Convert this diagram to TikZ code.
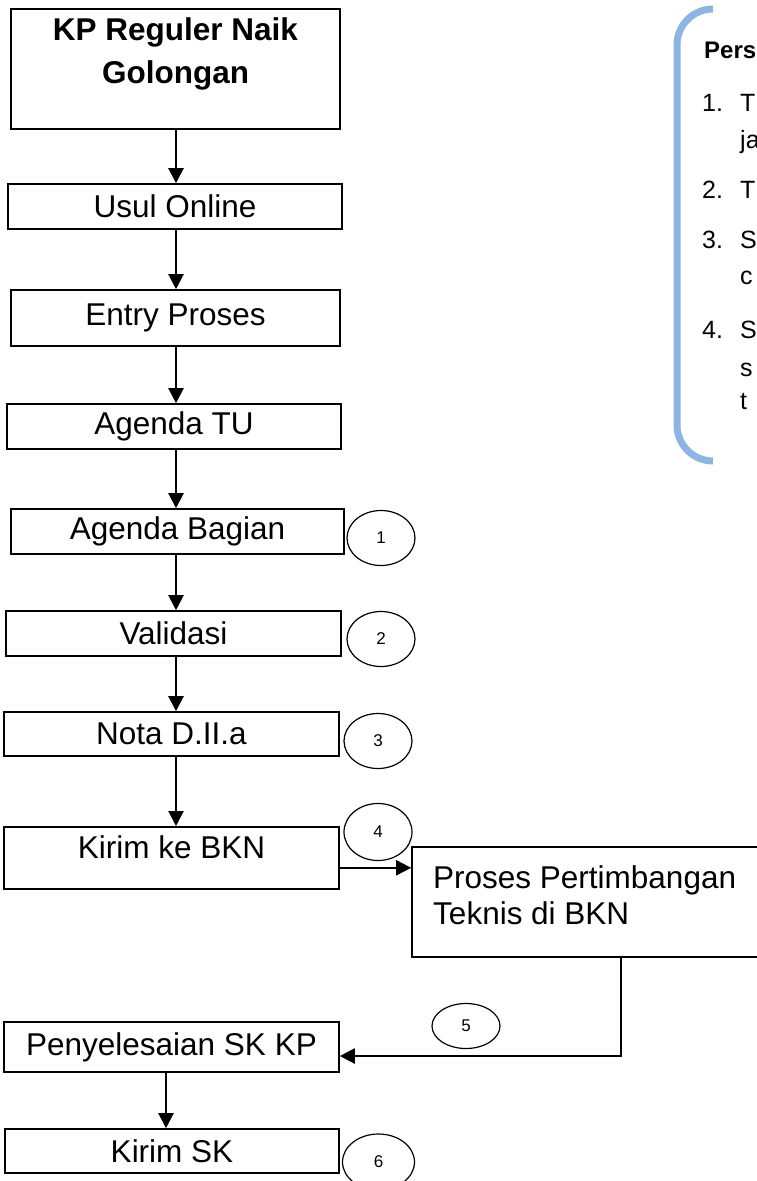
\documentclass[tikz,border=0pt]{standalone}
\usepackage{fontspec}
\setmainfont{Liberation Sans}
\usetikzlibrary{shapes.geometric, arrows.meta}
\definecolor{brkblue}{RGB}{141,180,226}
\begin{document}
\begin{tikzpicture}[x=1pt, y=-1pt,
  box/.style={draw, line width=1.6pt, rectangle, inner sep=0pt, font=\fontsize{31.5}{36}\selectfont},
  num/.style={draw, ellipse, line width=1.2pt, minimum width=68pt, minimum height=55pt, inner sep=0pt, font=\fontsize{17}{18}\selectfont},
  arr/.style={line width=2.2pt, -{Triangle[length=15pt, width=15pt]}},
  brk/.style={draw=brkblue, line width=7pt},
  lst/.style={anchor=base west, inner sep=0pt, font=\fontsize{25}{28}\selectfont}]
\useasboundingbox (0,0) rectangle (757,1181);

% main column boxes
\node[box, minimum width=329pt, minimum height=120pt] (kp) at (175.5,69) {};
\node[anchor=north, inner sep=0pt, align=center, font=\bfseries\fontsize{31.5}{43}\selectfont] (kpt) at (175.5,17) {KP Reguler Naik\\Golongan};
\node[box, minimum width=334pt, minimum height=45pt] (usul) at (175,206.5) {Usul Online};
\node[box, minimum width=329pt, minimum height=56pt] (entry) at (175.5,318) {Entry Proses};
\node[box, minimum width=334pt, minimum height=45pt] (agtu) at (174,426.5) {Agenda TU};
\node[box, minimum width=333pt, minimum height=45pt] (agbag) at (177.5,531.5) {Agenda Bagian};
\node[box, minimum width=335pt, minimum height=45pt] (valid) at (173.5,633.5) {Validasi};
\node[box, minimum width=335pt, minimum height=44pt] (nota) at (171.5,734) {Nota D.II.a};
\node[box, minimum width=335pt, text height=32pt, text depth=30pt, anchor=north] (kirim) at (171.5,826) {Kirim ke BKN};
\node[box, minimum width=418pt, minimum height=110pt] (bkn) at (621,902) {};
\node[anchor=north west, inner sep=0pt, align=left, font=\fontsize{31.5}{36}\selectfont] (bknt) at (433,865.5) {Proses Pertimbangan\\Teknis di BKN};
\node[box, minimum width=335pt, minimum height=50pt] (peny) at (171.5,1047) {Penyelesaian SK KP};
\node[box, minimum width=334pt, minimum height=44pt] (kirimsk) at (172,1151) {Kirim SK};

% number ellipses
\node[num] (n1) at (381,538) {1};
\node[num] (n2) at (381,639) {2};
\node[num] (n3) at (378,741) {3};
\node[num, minimum height=57pt] (n4) at (378,832) {4};
\node[num, minimum height=45pt] (n5) at (466,1026) {5};
\node[num, minimum width=72pt, minimum height=56pt] (n6) at (378.5,1162) {6};

% connectors
\coordinate (col) at (176,0);
\coordinate (col2) at (166,0);
\draw[arr] (col |- kp.south) -- (col |- usul.north);
\draw[arr] (col |- usul.south) -- (col |- entry.north);
\draw[arr] (col |- entry.south) -- (col |- agtu.north);
\draw[arr] (col |- agtu.south) -- (col |- agbag.north);
\draw[arr] (col |- agbag.south) -- (col |- valid.north);
\draw[arr] (col |- valid.south) -- (col |- nota.north);
\draw[arr] (col |- nota.south) -- (col |- kirim.north);
\coordinate (k4) at ([yshift=-10pt]kirim.east);
\draw[arr] (k4) -- (k4 -| bkn.west);
\coordinate (p5) at ([yshift=-9pt]peny.east);
\draw[arr] (bkn.south) |- (p5);
\draw[arr] (col2 |- peny.south) -- (col2 |- kirimsk.north);

% bracket panel
\draw[brk, rounded corners=36pt] (713,9) -- (677,9) -- (677,461) -- (713,461);
\node[lst, font=\bfseries\fontsize{24}{28}\selectfont] (pers) at (704,58) {Pers};
\node[lst] (i1) at (702,111) {1.};
\node[lst] (t1) at (740,111) {T};
\node[lst] (t1b) at (740,148) {ja};
\node[lst] (i2) at (702,198) {2.};
\node[lst] (t2) at (740,198) {T};
\node[lst] (i3) at (702,248) {3.};
\node[lst] (t3) at (740,248) {S};
\node[lst] (t3b) at (740,284) {c};
\node[lst] (i4) at (702,338) {4.};
\node[lst] (t4) at (740,338) {S};
\node[lst] (t4b) at (740,376) {s};
\node[lst] (t4c) at (740,409) {t};
\end{tikzpicture}
\end{document}
